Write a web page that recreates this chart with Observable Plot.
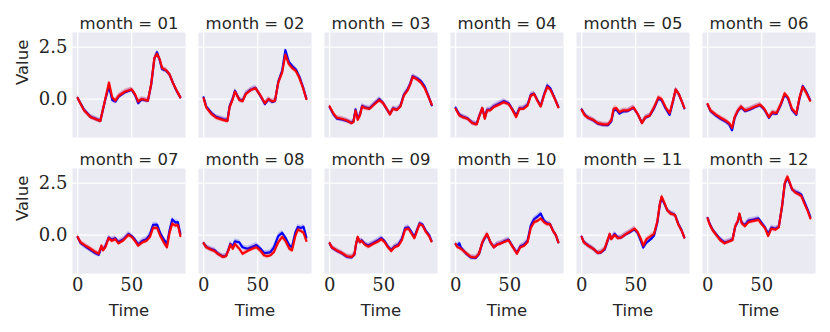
<!DOCTYPE html>
<html><head><meta charset="utf-8">
<script src="https://cdn.jsdelivr.net/npm/d3@7"></script>
<script src="https://cdn.jsdelivr.net/npm/@observablehq/plot@0.6"></script>
<style>
html,body{margin:0;padding:0;background:#fff}
g[aria-label="x-axis tick label"] text, g[aria-label="y-axis tick label"] text,
g[aria-label="x-axis tick label"], g[aria-label="y-axis tick label"] {
  font-family: "DejaVu Serif", serif !important; font-size: 18px !important; fill: #262626;
}
</style>
</head><body><div id="chart"></div>
<script>
const months = ["01","02","03","04","05","06","07","08","09","10","11","12"];
const xTicks = [0, 50];
const yTicks = [0, 2.5];
const bandHalfWidth = 0.12;

const t01 = [0,6,12,21,25.6,29,32,35,38,44,50,53,56,59,62,65,68,71,73.5,76,78,82,85,88,91,95];
const red01 = [0.05,-0.55,-0.87,-1.06,0.0,0.79,0.08,-0.08,0.16,0.36,0.47,0.24,-0.12,0.0,-0.03,-0.08,0.71,1.98,2.17,1.9,1.5,1.38,1.19,0.79,0.47,0.08];
const blue01 = [0.05,-0.52,-0.85,-1.05,-0.02,0.62,-0.05,-0.12,0.12,0.33,0.45,0.2,-0.2,-0.02,-0.05,-0.08,0.68,1.95,2.25,1.85,1.45,1.36,1.18,0.8,0.45,0.08];

const t02 = [0,2.4,7,11.6,17.7,22,24,27,29,33,36,39,43.6,48,52.7,56.7,60,63.4,66,69,72.6,75.6,78.7,81.7,85.4,88.4,91.8,95];
const red02 = [0.03,-0.4,-0.71,-0.9,-1.0,-1.06,-0.4,0.0,0.36,-0.05,-0.11,0.24,0.43,0.52,0.16,-0.2,0.0,-0.11,-0.08,0.79,1.27,2.14,1.69,1.5,1.34,1.03,0.55,0.0];
const blue02 = [0.08,-0.36,-0.66,-0.86,-0.96,-1.02,-0.36,0.04,0.4,-0.02,-0.08,0.26,0.45,0.54,0.14,-0.24,-0.02,-0.14,-0.1,0.82,1.35,2.35,1.8,1.6,1.42,1.1,0.6,0.02];

const t03 = [0,3.7,6.7,11.3,16,20.4,22,24,26,28,30,32.6,37,41.8,46,49.4,52.4,55.8,58.5,62.5,65.5,68.6,72,74.4,76.8,80.8,84.5,88,91,94.5];
const red03 = [-0.36,-0.71,-0.9,-0.95,-1.03,-1.16,-1.11,-0.55,-1.0,-0.79,-0.36,-0.43,-0.47,-0.24,-0.05,-0.2,-0.43,-0.74,-0.47,-0.52,-0.36,0.16,0.4,0.68,1.06,0.95,0.79,0.52,0.16,-0.27];
const blue03 = [-0.38,-0.75,-0.94,-0.98,-1.05,-1.14,-1.08,-0.5,-0.95,-0.75,-0.33,-0.4,-0.45,-0.2,0.0,-0.18,-0.45,-0.72,-0.45,-0.5,-0.33,0.2,0.45,0.72,1.1,1.0,0.86,0.6,0.2,-0.3];

const t04 = [0,3.4,6.4,11,15.5,19.5,21.6,24.7,27,29,32,35,40,44.5,49,52,56,59,62.8,66.5,69.5,72.6,75.6,78.7,81.7,84.8,87.8,91.8,95];
const red04 = [-0.47,-0.79,-0.87,-0.95,-1.16,-1.22,-0.87,-0.43,-0.95,-0.55,-0.55,-0.4,-0.27,-0.16,-0.24,-0.47,-0.87,-0.47,-0.47,-0.32,0.16,0.24,-0.08,-0.36,0.16,0.59,0.43,0.0,-0.4];
const blue04 = [-0.42,-0.75,-0.84,-0.93,-1.14,-1.2,-0.85,-0.45,-0.9,-0.52,-0.5,-0.36,-0.22,-0.1,-0.2,-0.45,-0.8,-0.45,-0.43,-0.28,0.2,0.26,-0.05,-0.33,0.2,0.65,0.5,0.02,-0.38];

const t05 = [0,3,6,10.7,15,20,24.4,27.4,29.6,32,35,38,42.7,48,51.8,55.8,59,63,67,71,74,77.7,81.4,84.5,87,90,93,95];
const red05 = [-0.52,-0.79,-0.9,-1.0,-1.16,-1.22,-1.22,-1.03,-0.47,-0.43,-0.63,-0.55,-0.55,-0.4,-0.71,-1.16,-0.87,-0.79,-0.4,0.08,0.0,-0.4,-0.68,-0.08,0.47,0.24,-0.16,-0.43];
const blue05 = [-0.5,-0.76,-0.9,-1.02,-1.18,-1.25,-1.26,-1.08,-0.55,-0.5,-0.7,-0.6,-0.58,-0.42,-0.72,-1.14,-0.9,-0.8,-0.45,0.02,-0.06,-0.45,-0.76,-0.12,0.45,0.22,-0.16,-0.45];

const t06 = [0,2.7,7.3,12,16.5,20,22.6,25,28,31,34.8,39.3,44,48.5,52.4,56.7,59.8,63.7,67.7,71.3,74.4,78,82,85,88,91,94.8];
const red06 = [-0.24,-0.55,-0.74,-0.9,-1.03,-1.16,-1.38,-0.87,-0.55,-0.36,-0.55,-0.47,-0.36,-0.27,-0.47,-0.87,-0.63,-0.68,-0.24,0.27,0.08,-0.47,-0.71,0.08,0.59,0.32,-0.08];
const blue06 = [-0.26,-0.58,-0.78,-0.95,-1.08,-1.22,-1.5,-0.9,-0.58,-0.4,-0.58,-0.5,-0.38,-0.3,-0.5,-0.9,-0.68,-0.72,-0.28,0.22,0.02,-0.52,-0.76,0.02,0.62,0.38,-0.05];

const t07 = [0,2.7,7.3,12,16.5,19.5,22,23.5,25.6,28.7,31.7,34.8,37.8,42.4,47,50,53,56,60,63.7,66.8,69.8,73.5,76.5,79.6,82.6,85,87.5,90.5,92.7,95];
const red07 = [-0.09,-0.35,-0.51,-0.66,-0.82,-0.9,-0.51,-0.74,-0.59,-0.15,-0.28,-0.2,-0.4,-0.25,0.0,-0.09,-0.28,-0.51,-0.35,-0.28,-0.1,0.34,0.34,-0.05,-0.35,-0.59,0.1,0.55,0.45,0.48,-0.05];
const blue07 = [-0.1,-0.38,-0.56,-0.72,-0.88,-0.95,-0.58,-0.7,-0.55,-0.12,-0.22,-0.15,-0.34,-0.2,0.05,-0.05,-0.22,-0.45,-0.28,-0.2,0.02,0.49,0.5,0.08,-0.2,-0.45,0.22,0.75,0.6,0.62,0.05];

const t08 = [0,2.4,7,10,13,17.7,20.7,23,24.7,27,29,33,36,40.5,45,48.8,52.7,55.8,58.8,61.9,65,69,72.6,75.6,79.3,81.7,84.8,87.2,90.2,92.4,95];
const red08 = [-0.39,-0.59,-0.71,-0.77,-0.9,-1.05,-1.02,-0.74,-0.46,-0.66,-0.43,-0.66,-0.9,-0.77,-0.66,-0.59,-0.77,-0.97,-1.02,-0.97,-0.82,-0.35,-0.09,-0.28,-0.66,-0.74,-0.05,0.26,0.19,0.11,-0.28];
const blue08 = [-0.39,-0.57,-0.68,-0.72,-0.88,-1.03,-1.0,-0.7,-0.42,-0.55,-0.3,-0.35,-0.59,-0.66,-0.56,-0.48,-0.66,-0.86,-0.86,-0.82,-0.59,-0.05,0.11,-0.12,-0.5,-0.59,0.11,0.39,0.34,0.4,-0.12];

const t09 = [0,2,6.7,11.3,16,20.4,22.9,24.4,26,28,29.6,32.6,35.7,40.2,44.8,47.9,51,54,57,60,63.7,66.8,69.8,72.9,75.3,78.4,80.8,83.2,86,89,92,94.2];
const red09 = [-0.39,-0.59,-0.74,-0.86,-1.02,-1.05,-0.93,-0.43,-0.09,-0.35,-0.28,-0.46,-0.56,-0.43,-0.31,-0.2,-0.35,-0.59,-0.77,-0.59,-0.51,-0.25,0.26,0.31,0.11,-0.15,0.19,0.52,0.46,0.15,-0.05,-0.31];
const blue09 = [-0.4,-0.6,-0.76,-0.88,-1.05,-1.08,-0.95,-0.45,-0.12,-0.33,-0.25,-0.42,-0.5,-0.38,-0.25,-0.14,-0.3,-0.55,-0.72,-0.55,-0.45,-0.18,0.33,0.37,0.18,-0.1,0.24,0.56,0.5,0.2,0.0,-0.28];

const t10 = [0,1.8,3.5,4.9,9.5,14,18.6,21.6,24.7,27,29,32.3,35.4,38.4,42,46,49,52,56.7,59.8,63.4,66.5,69.5,72.6,75.6,78.7,81.7,84.8,87.2,90.2,92.7,95];
const red10 = [-0.43,-0.59,-0.62,-0.66,-0.86,-1.05,-1.08,-0.9,-0.35,-0.12,0.06,-0.35,-0.59,-0.46,-0.4,-0.31,-0.25,-0.51,-0.9,-0.59,-0.51,-0.35,0.34,0.62,0.68,0.8,0.62,0.52,0.52,0.19,0.0,-0.35];
const blue10 = [-0.45,-0.5,-0.4,-0.6,-0.88,-1.08,-1.1,-0.92,-0.38,-0.15,0.02,-0.36,-0.58,-0.44,-0.38,-0.28,-0.22,-0.48,-0.86,-0.55,-0.45,-0.28,0.46,0.77,0.88,1.03,0.7,0.56,0.54,0.2,0.0,-0.35];

const t11 = [0,2,6,10.7,15,18,21.3,23.8,26,27.4,30.5,33.5,36.6,40.5,44.2,48.8,51.8,54.9,57,60,64,67,70,72.3,74,77,79.2,82.3,86.3,89.3,92.4,95];
const red11 = [-0.09,-0.35,-0.51,-0.66,-0.86,-0.82,-0.66,-0.28,0.06,-0.2,0.0,-0.15,-0.12,0.03,0.15,0.31,0.15,-0.2,-0.51,-0.2,-0.05,0.06,0.65,1.5,1.85,1.5,1.19,1.03,0.96,0.52,0.22,-0.12];
const blue11 = [-0.08,-0.33,-0.5,-0.66,-0.86,-0.84,-0.7,-0.32,0.0,-0.18,0.06,-0.12,-0.12,0.02,0.12,0.28,0.1,-0.3,-0.6,-0.36,-0.2,-0.02,0.6,1.45,1.8,1.45,1.2,1.06,0.98,0.56,0.24,-0.12];

const t12 = [0,1.8,4.8,8.8,11.8,15.8,19.4,23,25.5,28,29.4,31.5,34.5,37.8,42.4,47,50,53,56,59,62.8,65.8,68.9,71.3,73.8,75.9,78,81.1,84.1,86.6,89.6,92.7,95];
const red12 = [0.8,0.52,0.22,-0.05,-0.25,-0.4,-0.31,-0.25,0.42,0.68,1.03,0.57,0.42,0.62,0.68,0.73,0.52,0.34,-0.05,0.31,0.26,0.37,1.42,2.5,2.81,2.53,2.22,2.04,1.96,1.88,1.5,1.14,0.8];
const blue12 = [0.82,0.55,0.24,-0.02,-0.2,-0.36,-0.3,-0.22,0.4,0.65,1.0,0.6,0.48,0.7,0.74,0.8,0.58,0.38,0.05,0.36,0.3,0.4,1.4,2.45,2.75,2.5,2.2,2.08,2.02,1.95,1.58,1.2,0.86];

const timeSets = [t01,t02,t03,t04,t05,t06,t07,t08,t09,t10,t11,t12];
const redSets = [red01,red02,red03,red04,red05,red06,red07,red08,red09,red10,red11,red12];
const blueSets = [blue01,blue02,blue03,blue04,blue05,blue06,blue07,blue08,blue09,blue10,blue11,blue12];

const panels = months.map((m, i) => ({month: m, col: i % 6, row: Math.floor(i / 6), label: `month = ${m}`}));
const blueRows = [], redRows = [];
panels.forEach((p, i) => {
  timeSets[i].forEach((t, j) => {
    blueRows.push({col: p.col, row: p.row, t, v: blueSets[i][j]});
    redRows.push({col: p.col, row: p.row, t, v: redSets[i][j]});
  });
});

const sans = "DejaVu Sans";
const serif = "DejaVu Serif";
const ink = "#262626";

const chart = Plot.plot({
  width: 830, height: 332,
  marginLeft: 69, marginRight: 12, marginTop: 31, marginBottom: 58,
  x: {domain: [-4.75, 99.75]},
  y: {domain: [-1.85, 3.2]},
  fx: {domain: [0,1,2,3,4,5], paddingInner: 0.1, paddingOuter: 0, axis: null},
  fy: {domain: [0,1], paddingInner: 0.226, paddingOuter: 0, axis: null},
  style: {background: "white", color: ink},
  marks: [
    Plot.frame({fill: "#EAEAF2", stroke: null}),
    Plot.gridX(xTicks, {stroke: "white", strokeOpacity: 1, strokeWidth: 1.2}),
    Plot.gridY(yTicks, {stroke: "white", strokeOpacity: 1, strokeWidth: 1.2}),
    Plot.areaY(blueRows, {fx: "col", fy: "row", x: "t", y1: d => d.v - bandHalfWidth, y2: d => d.v + bandHalfWidth, fill: "#0000FF", fillOpacity: 0.2}),
    Plot.lineY(blueRows, {fx: "col", fy: "row", x: "t", y: "v", stroke: "#0000FF", strokeWidth: 2.2}),
    Plot.areaY(redRows, {fx: "col", fy: "row", x: "t", y1: d => d.v - bandHalfWidth, y2: d => d.v + bandHalfWidth, fill: "#FF0000", fillOpacity: 0.2}),
    Plot.lineY(redRows, {fx: "col", fy: "row", x: "t", y: "v", stroke: "#FF0000", strokeWidth: 2.2}),
    Plot.axisX(xTicks, {tickSize: 0, tickPadding: 5, fontFamily: serif, fontSize: 18, label: null}),
    Plot.axisY(yTicks, {tickSize: 0, tickPadding: 5, tickFormat: d3.format(".1f"), fontFamily: serif, fontSize: 18, label: null}),
    Plot.text(panels, {fx: "col", fy: "row", text: "label", frameAnchor: "top", lineAnchor: "bottom", dy: -4, fontFamily: sans, fontSize: 16.5, fill: ink}),
    Plot.text(panels.filter(p => p.col === 0), {fx: "col", fy: "row", text: () => "Value", frameAnchor: "left", rotate: -90, dx: -50, fontFamily: sans, fontSize: 16.5, fill: ink}),
    Plot.text(panels.filter(p => p.row === 1), {fx: "col", fy: "row", text: () => "Time", frameAnchor: "bottom", dy: 42, fontFamily: sans, fontSize: 16.5, fill: ink})
  ]
});
document.getElementById("chart").appendChild(chart);
</script>
</body></html>
